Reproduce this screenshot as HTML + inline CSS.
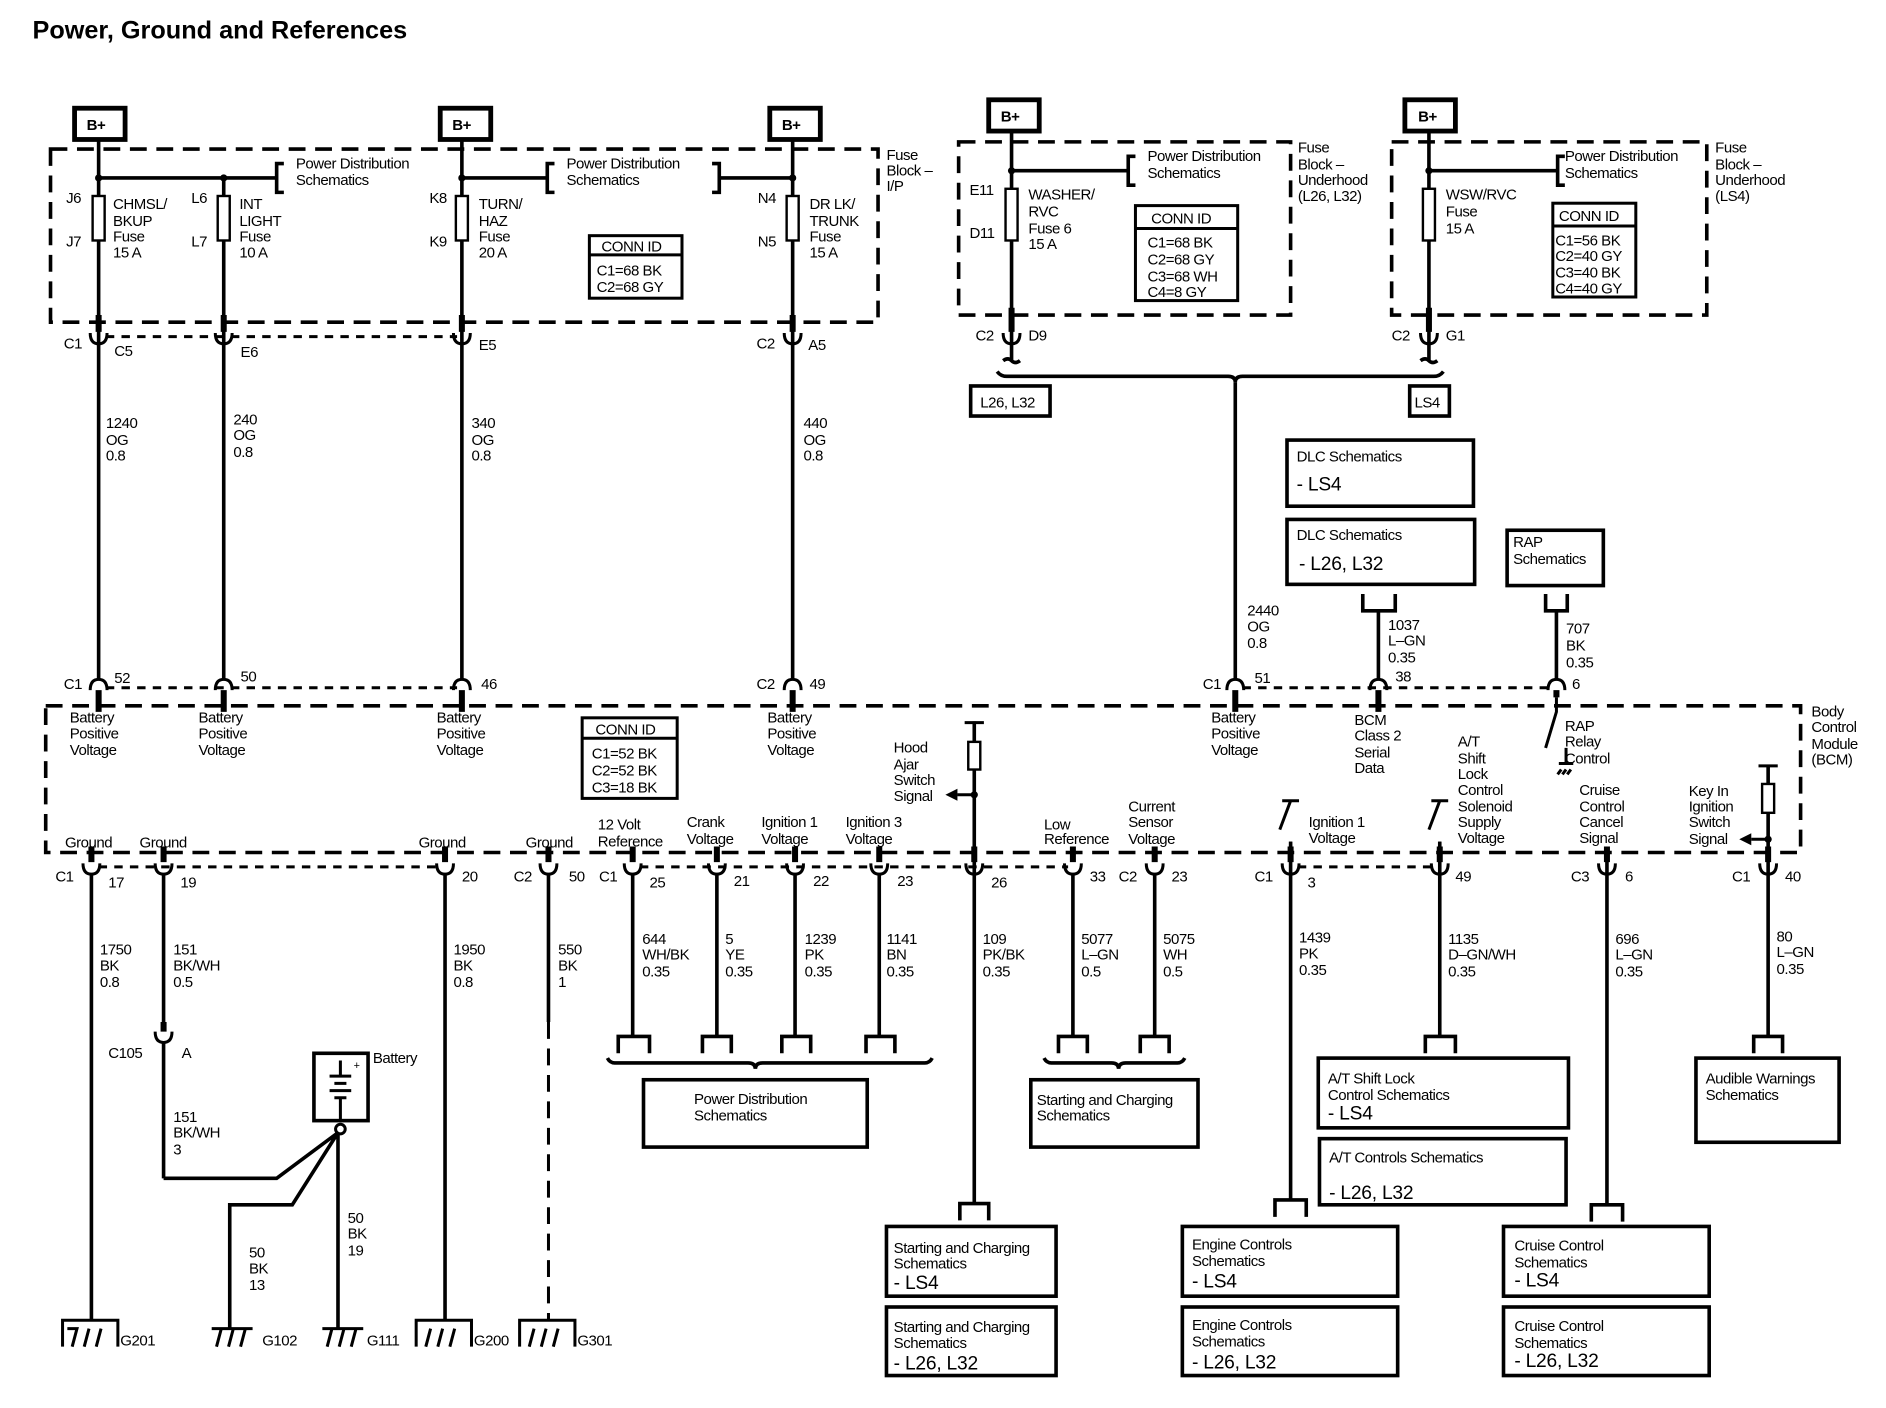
<!DOCTYPE html>
<html><head><meta charset="utf-8"><style>
html,body{margin:0;padding:0;background:#fff}
svg{display:block}
text{font-family:"Liberation Sans",Arial,sans-serif;font-size:12.5px;fill:#000;letter-spacing:-0.4px}
.b{font-weight:bold}
.l{font-size:16px;letter-spacing:-0.2px}
</style></head><body>
<svg width="1886" height="1408" viewBox="0 0 1568 1171" preserveAspectRatio="none" xmlns="http://www.w3.org/2000/svg">
<g fill="none" stroke="#000">
<g stroke-width="4">
<rect x="62" y="90" width="42" height="26"/><rect x="366" y="90" width="42" height="26"/><rect x="640" y="90" width="42" height="26"/>
<rect x="822" y="83" width="42" height="26"/><rect x="1168" y="83" width="42" height="26"/>
</g>
<g stroke-width="3" stroke-dasharray="14,8">
<rect x="42" y="124" width="688" height="144"/>
<rect x="797" y="118" width="276" height="144"/>
<rect x="1157" y="118" width="262" height="144"/>
<rect x="38" y="587" width="1459" height="122"/>
</g>
<g stroke-width="2.5" stroke-dasharray="7,6">
<line x1="88" y1="280" x2="380" y2="280"/>
<line x1="88" y1="572" x2="380" y2="572"/>
<line x1="1033" y1="572" x2="1290" y2="572"/>
<line x1="82" y1="721" x2="366" y2="721"/>
<line x1="532" y1="721" x2="888" y2="721"/>
<line x1="1079" y1="721" x2="1193" y2="721"/>
</g>
<g stroke-width="3">
<line x1="82" y1="116" x2="82" y2="565"/><line x1="186" y1="148" x2="186" y2="565"/>
<line x1="384" y1="116" x2="384" y2="565"/><line x1="659" y1="116" x2="659" y2="565"/>
<line x1="82" y1="148" x2="230" y2="148"/><line x1="384" y1="148" x2="455" y2="148"/><line x1="598" y1="148" x2="659" y2="148"/>
<path d="M236 136H230V160H236M461 136H455V160H461M592 136H598V160H592"/>
<line x1="841" y1="109" x2="841" y2="300"/><line x1="1188" y1="109" x2="1188" y2="300"/>
<line x1="841" y1="142" x2="938" y2="142"/><line x1="1188" y1="142" x2="1295" y2="142"/>
<path d="M944 130H938V154H944M1301 130H1295V154H1301"/>
<path d="M834 300q4 -3 7 0t7 0M1181 300q4 -3 7 0t7 0"/>
<path d="M829 309q3 4 8 4H1021q6 0 6 5q0 -5 6 -5H1192q5 0 8 -4"/>
<line x1="1027" y1="318" x2="1027" y2="565"/>
<line x1="1146" y1="508" x2="1146" y2="565"/><line x1="1294" y1="508" x2="1294" y2="565"/>
<path d="M1133 494V508H1160V494M1285 494V508H1303V494"/>
<line x1="76" y1="728" x2="76" y2="1098"/>
<line x1="136" y1="728" x2="136" y2="856"/>
<line x1="136" y1="866" x2="136" y2="980"/>
<path d="M136 980H230L281 942M281 942L243 1002H191V1105M281 942V1105"/>
<line x1="370" y1="728" x2="370" y2="1098"/>
<line x1="456" y1="728" x2="456" y2="850"/>
<line x1="526" y1="728" x2="526" y2="862"/><line x1="596" y1="728" x2="596" y2="862"/>
<line x1="661" y1="728" x2="661" y2="862"/><line x1="731" y1="728" x2="731" y2="862"/>
<line x1="810" y1="600" x2="810" y2="1001"/>
<line x1="892" y1="728" x2="892" y2="862"/><line x1="960" y1="728" x2="960" y2="862"/>
<line x1="1073" y1="700" x2="1073" y2="998"/><line x1="1197" y1="700" x2="1197" y2="862"/>
<line x1="1336" y1="709" x2="1336" y2="1002"/><line x1="1470" y1="636" x2="1470" y2="862"/>
<path d="M514 876V862H540V876M584 876V862H608V876M650 876V862H674V876M720 876V862H744V876M880 876V862H904V876M948 876V862H972V876"/>
<path d="M798 1015V1001H822V1015M1060 1012V998H1086V1012M1185 876V862H1210V876M1323 1016V1002H1349V1016M1458 876V862H1482V876"/>
<path d="M505 880q2 4 6 4H622q6 0 6 5q0 -5 6 -5H769q4 0 6 -4"/>
<path d="M868 880q2 4 6 4H924q6 0 6 5q0 -5 6 -5H979q4 0 6 -4"/>
<rect x="807" y="321" width="66" height="25"/><rect x="1172" y="321" width="33" height="25"/>
<rect x="1070" y="366" width="155" height="55"/><rect x="1070" y="432" width="156" height="54"/>
<rect x="1253" y="441" width="80" height="46"/>
<rect x="535" y="898" width="186" height="56"/><rect x="857" y="898" width="139" height="56"/>
<rect x="737" y="1020" width="141" height="58"/><rect x="737" y="1087" width="141" height="57"/>
<rect x="983" y="1020" width="179" height="58"/><rect x="983" y="1087" width="179" height="57"/>
<rect x="1096" y="880" width="208" height="58"/><rect x="1097" y="947" width="205" height="55"/>
<rect x="1250" y="1020" width="171" height="58"/><rect x="1250" y="1087" width="171" height="57"/>
<rect x="1410" y="880" width="119" height="70"/>
<rect x="261" y="876" width="45" height="56"/>
</g>
<g stroke-width="2.5">
<rect x="490" y="196" width="77" height="52"/><line x1="490" y1="212" x2="567" y2="212"/>
<rect x="944" y="171" width="85" height="79"/><line x1="944" y1="190" x2="1029" y2="190"/>
<rect x="1291" y="169" width="69" height="78"/><line x1="1291" y1="188" x2="1360" y2="188"/>
<rect x="484" y="597" width="79" height="67"/><line x1="484" y1="614" x2="563" y2="614"/>
</g>
<g stroke-width="2" fill="#fff">
<rect x="77" y="163" width="10" height="37"/><rect x="181" y="163" width="10" height="37"/>
<rect x="379" y="163" width="10" height="37"/><rect x="654" y="163" width="10" height="37"/>
<rect x="836" y="157" width="10" height="43"/><rect x="1183" y="157" width="10" height="43"/>
<rect x="805" y="617" width="10" height="23"/><rect x="1465" y="652" width="10" height="24"/>
</g>
<g stroke-width="5">
<path d="M82 262V276M186 262V276M384 262V276M659 262V276M841 256V276M1188 256V276"/>
<path d="M82 574V592M186 574V592M384 574V592M659 574V592M1027 574V592M1146 574V592M1294 574V580"/>
<path d="M76 704V717M136 704V717M370 704V717M456 704V717M526 704V717M596 704V717M661 704V717M731 704V717M810 704V717M892 704V717M960 704V717M1073 704V717M1197 704V717M1336 704V717M1470 704V717M136 850V858"/>
</g>
<g stroke-width="2.5">
<path d="M75 277q0 9 7 9t7 -9M179 277q0 9 7 9t7 -9M377 277q0 9 7 9t7 -9M652 277q0 9 7 9t7 -9M834 277q0 9 7 9t7 -9M1181 277q0 9 7 9t7 -9"/>
<path d="M75 574q0 -9 7 -9t7 9M179 574q0 -9 7 -9t7 9M377 574q0 -9 7 -9t7 9M652 574q0 -9 7 -9t7 9M1020 574q0 -9 7 -9t7 9M1139 574q0 -9 7 -9t7 9M1287 574q0 -9 7 -9t7 9"/>
<path d="M69 718q0 9 7 9t7 -9M129 718q0 9 7 9t7 -9M363 718q0 9 7 9t7 -9M449 718q0 9 7 9t7 -9M519 718q0 9 7 9t7 -9M589 718q0 9 7 9t7 -9M654 718q0 9 7 9t7 -9M724 718q0 9 7 9t7 -9M803 718q0 9 7 9t7 -9M885 718q0 9 7 9t7 -9M953 718q0 9 7 9t7 -9M1066 718q0 9 7 9t7 -9M1190 718q0 9 7 9t7 -9M1329 718q0 9 7 9t7 -9M1463 718q0 9 7 9t7 -9M129 858q0 9 7 9t7 -9"/>
<path d="M1294 580V592L1285 622M1066 666H1080M1073 666L1064 690M1073 700V709M1190 666H1204M1197 666L1188 690M1197 700V709"/>
<path d="M1302 622V635M1296 635H1308M1298 640l-3 4M1302 640l-3 4M1306 640l-3 4"/>
<path d="M802 601H818M1462 637H1478M810 600V617M810 640V709M1470 636V652M1470 676V709"/>
<path d="M810 661H796M1470 698H1456"/>
<path d="M52 1120V1098H98V1120M346 1120V1098H392V1120M432 1120V1098H478V1120"/>
<path d="M60 1120l4 -15H56M70 1120l4 -15M80 1120l4 -15"/>
<path d="M354 1120l4 -15M364 1120l4 -15M374 1120l4 -15"/>
<path d="M440 1120l4 -15M450 1120l4 -15M460 1120l4 -15"/>
<path d="M176 1105H210M180 1120l4 -15M190 1120l4 -15M200 1120l4 -15"/>
<path d="M268 1105H302M272 1120l4 -15M282 1120l4 -15M292 1120l4 -15"/>
<path d="M283 882V895M274 895H292M278 901H288M274 907H292M278 913H288M283 913V932"/>
<circle cx="283" cy="939" r="4" fill="#fff"/>
</g>
<line x1="456" y1="850" x2="456" y2="1098" stroke-width="2.5" stroke-dasharray="14,8"/>
<g fill="#000" stroke="none">
<circle cx="82" cy="148" r="3"/><circle cx="186" cy="148" r="3"/><circle cx="384" cy="148" r="3"/><circle cx="659" cy="148" r="3"/>
<circle cx="841" cy="142" r="3"/><circle cx="1188" cy="142" r="3"/><circle cx="810" cy="661" r="3"/><circle cx="1470" cy="698" r="3"/>
<path d="M786 661l10 -5v10zM1446 698l10 -5v10z"/>
</g>
</g>

<text x="27" y="32" class="b" style="font-size:21px;letter-spacing:0">Power, Ground and References</text>
<g class="b" style="font-size:13px">
<text x="72" y="108">B+</text><text x="376" y="108">B+</text><text x="650" y="108">B+</text><text x="832" y="101">B+</text><text x="1179" y="101">B+</text>
</g>
<g>
<text x="246" y="140">Power Distribution</text><text x="246" y="154">Schematics</text>
<text x="471" y="140">Power Distribution</text><text x="471" y="154">Schematics</text>
<text x="737" y="133">Fuse</text><text x="737" y="146">Block –</text><text x="737" y="159">I/P</text>
<text x="55" y="169">J6</text><text x="55" y="205">J7</text><text x="159" y="169">L6</text><text x="159" y="205">L7</text>
<text x="357" y="169">K8</text><text x="357" y="205">K9</text><text x="630" y="169">N4</text><text x="630" y="205">N5</text>
<text x="94" y="174">CHMSL/</text><text x="94" y="188">BKUP</text><text x="94" y="201">Fuse</text><text x="94" y="214">15 A</text>
<text x="199" y="174">INT</text><text x="199" y="188">LIGHT</text><text x="199" y="201">Fuse</text><text x="199" y="214">10 A</text>
<text x="398" y="174">TURN/</text><text x="398" y="188">HAZ</text><text x="398" y="201">Fuse</text><text x="398" y="214">20 A</text>
<text x="673" y="174">DR LK/</text><text x="673" y="188">TRUNK</text><text x="673" y="201">Fuse</text><text x="673" y="214">15 A</text>
<text x="500" y="209">CONN ID</text><text x="496" y="229">C1=68 BK</text><text x="496" y="243">C2=68 GY</text>
<text x="954" y="134">Power Distribution</text><text x="954" y="148">Schematics</text>
<text x="1079" y="127">Fuse</text><text x="1079" y="141">Block –</text><text x="1079" y="154">Underhood</text><text x="1079" y="167">(L26, L32)</text>
<text x="806" y="162">E11</text><text x="806" y="198">D11</text>
<text x="855" y="166">WASHER/</text><text x="855" y="180">RVC</text><text x="855" y="194">Fuse 6</text><text x="855" y="207">15 A</text>
<text x="957" y="186">CONN ID</text><text x="954" y="206">C1=68 BK</text><text x="954" y="220">C2=68 GY</text><text x="954" y="234">C3=68 WH</text><text x="954" y="247">C4=8 GY</text>
<text x="1301" y="134">Power Distribution</text><text x="1301" y="148">Schematics</text>
<text x="1426" y="127">Fuse</text><text x="1426" y="141">Block –</text><text x="1426" y="154">Underhood</text><text x="1426" y="167">(LS4)</text>
<text x="1202" y="166">WSW/RVC</text><text x="1202" y="180">Fuse</text><text x="1202" y="194">15 A</text>
<text x="1296" y="184">CONN ID</text><text x="1293" y="204">C1=56 BK</text><text x="1293" y="217">C2=40 GY</text><text x="1293" y="231">C3=40 BK</text><text x="1293" y="244">C4=40 GY</text>
<text x="53" y="290">C1</text><text x="95" y="296">C5</text><text x="200" y="297">E6</text><text x="398" y="291">E5</text>
<text x="629" y="290">C2</text><text x="672" y="291">A5</text>
<text x="811" y="283">C2</text><text x="855" y="283">D9</text><text x="1157" y="283">C2</text><text x="1202" y="283">G1</text>
<text x="815" y="339">L26, L32</text><text x="1176" y="339">LS4</text>
<text x="88" y="356">1240</text><text x="88" y="370">OG</text><text x="88" y="383">0.8</text>
<text x="194" y="353">240</text><text x="194" y="366">OG</text><text x="194" y="380">0.8</text>
<text x="392" y="356">340</text><text x="392" y="370">OG</text><text x="392" y="383">0.8</text>
<text x="668" y="356">440</text><text x="668" y="370">OG</text><text x="668" y="383">0.8</text>
<text x="1078" y="384">DLC Schematics</text><text x="1078" y="408" class="l">- LS4</text>
<text x="1078" y="449">DLC Schematics</text><text x="1080" y="474" class="l">- L26, L32</text>
<text x="1258" y="455">RAP</text><text x="1258" y="469">Schematics</text>
<text x="1037" y="512">2440</text><text x="1037" y="525">OG</text><text x="1037" y="539">0.8</text>
<text x="1154" y="524">1037</text><text x="1154" y="537">L–GN</text><text x="1154" y="551">0.35</text>
<text x="1302" y="527">707</text><text x="1302" y="541">BK</text><text x="1302" y="555">0.35</text>
<text x="53" y="573">C1</text><text x="95" y="568">52</text><text x="200" y="567">50</text><text x="400" y="573">46</text>
<text x="629" y="573">C2</text><text x="673" y="573">49</text>
<text x="1000" y="573">C1</text><text x="1043" y="568">51</text><text x="1160" y="567">38</text><text x="1307" y="573">6</text>
<text x="58" y="601">Battery</text><text x="58" y="614">Positive</text><text x="58" y="628">Voltage</text>
<text x="165" y="601">Battery</text><text x="165" y="614">Positive</text><text x="165" y="628">Voltage</text>
<text x="363" y="601">Battery</text><text x="363" y="614">Positive</text><text x="363" y="628">Voltage</text>
<text x="638" y="601">Battery</text><text x="638" y="614">Positive</text><text x="638" y="628">Voltage</text>
<text x="1007" y="601">Battery</text><text x="1007" y="614">Positive</text><text x="1007" y="628">Voltage</text>
<text x="1126" y="603">BCM</text><text x="1126" y="616">Class 2</text><text x="1126" y="630">Serial</text><text x="1126" y="643">Data</text>
<text x="1301" y="608">RAP</text><text x="1301" y="621">Relay</text><text x="1301" y="635">Control</text>
<text x="1506" y="596">Body</text><text x="1506" y="609">Control</text><text x="1506" y="623">Module</text><text x="1506" y="636">(BCM)</text>
<text x="495" y="611">CONN ID</text><text x="492" y="631">C1=52 BK</text><text x="492" y="645">C2=52 BK</text><text x="492" y="659">C3=18 BK</text>
<text x="743" y="626">Hood</text><text x="743" y="640">Ajar</text><text x="743" y="653">Switch</text><text x="743" y="666">Signal</text>
<text x="1212" y="621">A/T</text><text x="1212" y="635">Shift</text><text x="1212" y="648">Lock</text><text x="1212" y="661">Control</text><text x="1212" y="675">Solenoid</text><text x="1212" y="688">Supply</text><text x="1212" y="701">Voltage</text>
<text x="1313" y="661">Cruise</text><text x="1313" y="675">Control</text><text x="1313" y="688">Cancel</text><text x="1313" y="701">Signal</text>
<text x="1404" y="662">Key In</text><text x="1404" y="675">Ignition</text><text x="1404" y="688">Switch</text><text x="1404" y="702">Signal</text>
<text x="1088" y="688">Ignition 1</text><text x="1088" y="701">Voltage</text>
<text x="868" y="690">Low</text><text x="868" y="702">Reference</text>
<text x="938" y="675">Current</text><text x="938" y="688">Sensor</text><text x="938" y="702">Voltage</text>
<text x="54" y="705">Ground</text><text x="116" y="705">Ground</text><text x="348" y="705">Ground</text><text x="437" y="705">Ground</text>
<text x="497" y="690">12 Volt</text><text x="497" y="704">Reference</text>
<text x="571" y="688">Crank</text><text x="571" y="702">Voltage</text>
<text x="633" y="688">Ignition 1</text><text x="633" y="702">Voltage</text>
<text x="703" y="688">Ignition 3</text><text x="703" y="702">Voltage</text>
<text x="46" y="733">C1</text><text x="90" y="738">17</text><text x="150" y="738">19</text><text x="384" y="733">20</text>
<text x="427" y="733">C2</text><text x="473" y="733">50</text><text x="498" y="733">C1</text><text x="540" y="738">25</text>
<text x="610" y="737">21</text><text x="676" y="737">22</text><text x="746" y="737">23</text><text x="824" y="738">26</text>
<text x="906" y="733">33</text><text x="930" y="733">C2</text><text x="974" y="733">23</text>
<text x="1043" y="733">C1</text><text x="1087" y="738">3</text><text x="1210" y="733">49</text>
<text x="1306" y="733">C3</text><text x="1351" y="733">6</text><text x="1440" y="733">C1</text><text x="1484" y="733">40</text>
<text x="83" y="794">1750</text><text x="83" y="807">BK</text><text x="83" y="821">0.8</text>
<text x="144" y="794">151</text><text x="144" y="807">BK/WH</text><text x="144" y="821">0.5</text>
<text x="377" y="794">1950</text><text x="377" y="807">BK</text><text x="377" y="821">0.8</text>
<text x="464" y="794">550</text><text x="464" y="807">BK</text><text x="464" y="821">1</text>
<text x="534" y="785">644</text><text x="534" y="798">WH/BK</text><text x="534" y="812">0.35</text>
<text x="603" y="785">5</text><text x="603" y="798">YE</text><text x="603" y="812">0.35</text>
<text x="669" y="785">1239</text><text x="669" y="798">PK</text><text x="669" y="812">0.35</text>
<text x="737" y="785">1141</text><text x="737" y="798">BN</text><text x="737" y="812">0.35</text>
<text x="817" y="785">109</text><text x="817" y="798">PK/BK</text><text x="817" y="812">0.35</text>
<text x="899" y="785">5077</text><text x="899" y="798">L–GN</text><text x="899" y="812">0.5</text>
<text x="967" y="785">5075</text><text x="967" y="798">WH</text><text x="967" y="812">0.5</text>
<text x="1080" y="784">1439</text><text x="1080" y="797">PK</text><text x="1080" y="811">0.35</text>
<text x="1204" y="785">1135</text><text x="1204" y="798">D–GN/WH</text><text x="1204" y="812">0.35</text>
<text x="1343" y="785">696</text><text x="1343" y="798">L–GN</text><text x="1343" y="812">0.35</text>
<text x="1477" y="783">80</text><text x="1477" y="796">L–GN</text><text x="1477" y="810">0.35</text>
<text x="90" y="880">C105</text><text x="151" y="880">A</text>
<text x="144" y="933">151</text><text x="144" y="946">BK/WH</text><text x="144" y="960">3</text>
<text x="310" y="884">Battery</text><text x="294" y="889" style="font-size:9px">+</text>
<text x="207" y="1046">50</text><text x="207" y="1059">BK</text><text x="207" y="1073">13</text>
<text x="289" y="1017">50</text><text x="289" y="1030">BK</text><text x="289" y="1044">19</text>
<text x="100" y="1119">G201</text><text x="218" y="1119">G102</text><text x="305" y="1119">G111</text><text x="394" y="1119">G200</text><text x="480" y="1119">G301</text>
<text x="577" y="918">Power Distribution</text><text x="577" y="932">Schematics</text>
<text x="862" y="919">Starting and Charging</text><text x="862" y="932">Schematics</text>
<text x="743" y="1042">Starting and Charging</text><text x="743" y="1055">Schematics</text><text x="743" y="1072" class="l">- LS4</text>
<text x="743" y="1108">Starting and Charging</text><text x="743" y="1121">Schematics</text><text x="743" y="1139" class="l">- L26, L32</text>
<text x="991" y="1039">Engine Controls</text><text x="991" y="1053">Schematics</text><text x="991" y="1071" class="l">- LS4</text>
<text x="991" y="1106">Engine Controls</text><text x="991" y="1120">Schematics</text><text x="991" y="1138" class="l">- L26, L32</text>
<text x="1104" y="901">A/T Shift Lock</text><text x="1104" y="915">Control Schematics</text><text x="1104" y="931" class="l">- LS4</text>
<text x="1105" y="967">A/T Controls Schematics</text><text x="1105" y="997" class="l">- L26, L32</text>
<text x="1259" y="1040">Cruise Control</text><text x="1259" y="1054">Schematics</text><text x="1259" y="1070" class="l">- LS4</text>
<text x="1259" y="1107">Cruise Control</text><text x="1259" y="1121">Schematics</text><text x="1259" y="1137" class="l">- L26, L32</text>
<text x="1418" y="901">Audible Warnings</text><text x="1418" y="915">Schematics</text>
</g>
</svg>
</body></html>
